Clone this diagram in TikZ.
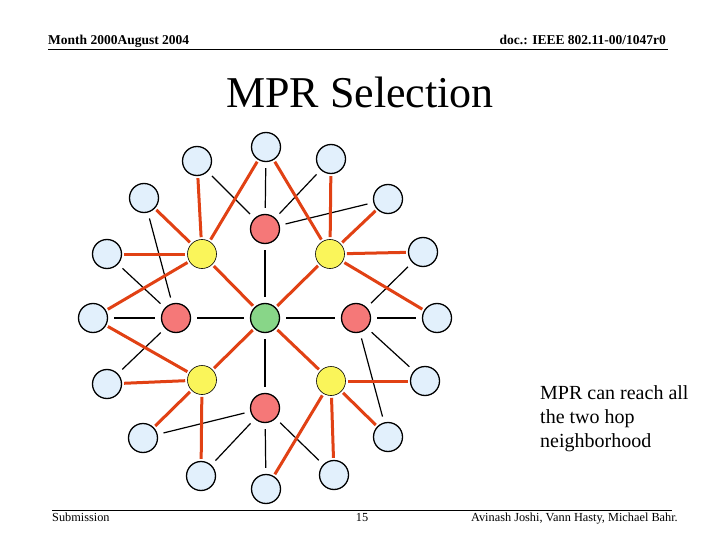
\documentclass[tikz,border=0pt]{standalone}
\usepackage{fontspec}
\setmainfont{Liberation Serif}
\definecolor{lblue}{RGB}{226,240,252}
\definecolor{lred}{RGB}{245,120,120}
\definecolor{lyel}{RGB}{250,245,90}
\definecolor{lgrn}{RGB}{136,214,136}
\definecolor{orl}{RGB}{225,65,20}
\begin{document}
\begin{tikzpicture}[x=1pt,y=-1pt,
 nd/.style={circle,draw=black,line width=1.3pt,minimum size=29pt,inner sep=0pt},
 blue/.style={nd,fill=lblue},
 red/.style={nd,fill=lred},
 yel/.style={nd,fill=lyel,line width=0.6pt},
 grn/.style={nd,fill=lgrn},
 bl/.style={line width=1.2pt,shorten >=6pt,shorten <=6pt},
 rl/.style={line width=3pt,draw=orl,shorten >=2pt,shorten <=2pt}]
\useasboundingbox (0,0) rectangle (720,540);
\node[anchor=base west,font=\bfseries\fontsize{13.5}{15}\selectfont,inner sep=0pt] (h1) at (48,45) {Month 2000August 2004};
\node[anchor=base east,font=\bfseries\fontsize{13.5}{15}\selectfont,inner sep=0pt] (h2) at (666,45) {doc.: IEEE 802.11-00/1047r0};
\draw[line width=0.8pt] (48,49) coordinate (hl1) -- (668,49) coordinate (hr1);
\node[font=\fontsize{44}{48}\selectfont] (title) at (360,92) {MPR Selection};
\draw[line width=0.8pt] (52,510) coordinate (fl1) -- (672,510) coordinate (fr1);
\node[anchor=base west,font=\fontsize{12.3}{14}\selectfont,inner sep=0pt] (f1) at (52,521) {Submission};
\node[anchor=base,font=\fontsize{12.3}{14}\selectfont,inner sep=0pt] (f2) at (362,521) {15};
\node[anchor=base east,font=\fontsize{12.3}{14}\selectfont,inner sep=0pt] (f3) at (678,521) {Avinash Joshi, Vann Hasty, Michael Bahr.};
\node[anchor=north west,align=left,font=\fontsize{20}{24}\selectfont,inner sep=0pt] (txt) at (540,385) {MPR can reach all\\the two hop\\neighborhood};
% nodes
\node[grn] (G) at (265,318) {};
\node[red] (Rt) at (265,229) {};
\node[red] (Rl) at (176,318) {};
\node[red] (Rr) at (356,318) {};
\node[red] (Rb) at (265,408) {};
\node[yel] (Ytl) at (202,254) {};
\node[yel] (Ytr) at (330,254) {};
\node[yel] (Ybl) at (202,380) {};
\node[yel] (Ybr) at (331,381) {};
\foreach \n/\x/\y in {1/266/147,2/197/161,3/331/159,4/144/198,5/388/199,6/107/254,7/423/252,8/93/318,9/437/318,10/107/384,11/425/381,12/143/438,13/388/437,14/201/476,15/334/475,16/266/489}
  \node[blue] (B\n) at (\x,\y) {};
% black
\foreach \a/\b in {G/Rt,G/Rl,G/Rr,G/Rb,Rt/B1,Rt/B2,Rt/B3,Rt/B5,Rl/B8,Rl/B4,Rl/B6,Rl/B10,Rr/B9,Rr/B7,Rr/B11,Rr/B13,Rb/B16,Rb/B12,Rb/B14,Rb/B15}
  \draw[bl] (\a) -- (\b);
% red
\foreach \a/\b in {G/Ytl,G/Ytr,G/Ybl,G/Ybr,Ytl/B4,Ytl/B2,Ytl/B6,Ytl/B8,Ytl/B1,Ytr/B3,Ytr/B5,Ytr/B7,Ytr/B9,Ytr/B1,Ybl/B10,Ybl/B12,Ybl/B14,Ybl/B8,Ybr/B11,Ybr/B13,Ybr/B15,Ybr/B16}
  \draw[rl] (\a) -- (\b);
\end{tikzpicture}
\end{document}
